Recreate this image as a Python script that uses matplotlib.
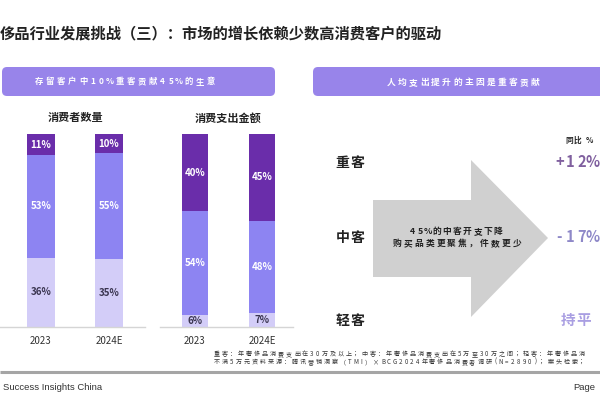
import numpy as np
import matplotlib
matplotlib.use("Agg")
import matplotlib.pyplot as plt
from matplotlib.patches import FancyBboxPatch, Polygon

plt.rcParams["font.family"] = ["Noto Sans CJK SC", "DejaVu Sans"]

# ---- data ----
years = ["2023", "2024E"]
count_light = [36, 35]
count_mid = [53, 55]
count_heavy = [11, 10]
spend_light = [6, 7]
spend_mid = [54, 48]
spend_heavy = [40, 45]

segments = ["重客", "中客", "轻客"]
yoy = ["+12%", "-17%", "持平"]

# ---- palette ----
DARK = "#6A2DAA"
MID = "#8D84F2"
LIGHT = "#D3CDF8"
BANNER = "#9884EA"
TXT = "#222222"
YOY_COLORS = ["#80609F", "#8E88C8", "#A99EE2"]


def spaced(ax, x, y, s, step, ha="center", ascii_f=0.75, fontsize=7, **kw):
    """draw a string char by char with fixed tracking (slide-style)"""
    widths = [step * (ascii_f if ord(c) < 128 else 1.0) for c in s]
    total = sum(widths)
    x0 = x - total / 2 if ha == "center" else x
    base = round(y + 0.5 * fontsize) + 0.01   # same pixel row for every glyph
    for c, w in zip(s, widths):
        ax.text(x0 + w / 2, base, c, ha="center", va="baseline",
                fontsize=fontsize, **kw)
        x0 += w


fig = plt.figure(figsize=(6, 4), dpi=100, facecolor="white")

# overlay in pixel coords (y down)
ov = fig.add_axes([0, 0, 1, 1])
ov.set_xlim(0, 600)
ov.set_ylim(400, 0)
ov.axis("off")

ov.text(0, 33, "侈品行业发展挑战（三）：市场的增长依赖少数高消费客户的驱动",
        fontsize=11, fontweight="bold", color=TXT, ha="left", va="center")

# banners
ov.add_patch(FancyBboxPatch((2, 67), 273, 29, boxstyle="round,pad=0,rounding_size=5",
                            fc=BANNER, ec="none"))
ov.add_patch(FancyBboxPatch((313, 67), 300, 29, boxstyle="round,pad=0,rounding_size=5",
                            fc=BANNER, ec="none"))
spaced(ov, 125, 81.5, "存留客户中10%重客贡献45%的生意", 11.1,
       fontsize=6, color="white", fontweight="bold")
spaced(ov, 463, 81.5, "人均支出提升的主因是重客贡献", 11.1,
       fontsize=6.3, color="white", fontweight="bold")

ov.text(75, 118, "消费者数量", fontsize=8, fontweight="bold", color=TXT,
        ha="center", va="center")
ov.text(228, 118, "消费支出金额", fontsize=8, fontweight="bold", color=TXT,
        ha="center", va="center")

# arrow
ov.add_patch(Polygon([(373, 200), (471, 200), (471, 160), (548, 238),
                      (471, 317), (471, 277), (373, 277)],
                     closed=True, fc="#D0D0D0", ec="none"))
spaced(ov, 456, 231, "45%的中客开支下降", 10.2, fontsize=6.3,
       fontweight="bold", color=TXT)
spaced(ov, 457, 243, "购买品类更聚焦，件数更少", 10.9, fontsize=6.3,
       fontweight="bold", color=TXT)

seg_y = [162, 237, 320]
for lab, val, y, c in zip(segments, yoy, seg_y, YOY_COLORS):
    spaced(ov, 350, y, lab, 15, fontsize=10, fontweight="bold", color=TXT)
    spaced(ov, 576, y, val, 15.5, ascii_f=0.72, fontsize=10.5,
           fontweight="bold", color=c)
spaced(ov, 579, 140, "同比 %", 8, ascii_f=0.7, fontsize=5.5,
       fontweight="bold", color=TXT)

# footnote (the slide is cropped at the right edge)
spaced(ov, 213, 354, "重客：年奢侈品消费支出在30万及以上；中客：年奢侈品消费支出在5万至30万之间；轻客：年奢侈品消",
       8.0, ha="left", ascii_f=0.72, fontsize=4.4, color="#333333")
spaced(ov, 213, 361.5, "不满5万元资料来源：腾讯营销洞察（TMI）×BCG2024年奢侈品消费者调研(N=2890)；案头检索；",
       8.0, ha="left", ascii_f=0.72, fontsize=4.4, color="#333333")

ov.plot([0, 600], [372, 372], color="#A5A5A5", lw=2.2, solid_capstyle="butt")
ov.text(3, 387, "Success Insights China", fontsize=6.8, color="#333333",
        ha="left", va="center", family="Liberation Sans")
ov.text(573, 387, "Page", fontsize=6.8, color="#333333",
        ha="left", va="center", family="Liberation Sans")


# ---- stacked bars ----
def stacked(rect, xlim, light, mid, heavy):
    ax = fig.add_axes(rect)
    x = np.arange(len(years))
    w = 0.4
    b1 = ax.bar(x, light, w, color=LIGHT)
    b2 = ax.bar(x, mid, w, bottom=light, color=MID)
    b3 = ax.bar(x, heavy, w, bottom=np.add(light, mid), color=DARK)
    for bars, vals, col in ((b1, light, "#3A3550"), (b2, mid, "white"),
                            (b3, heavy, "white")):
        for p, v in zip(bars, vals):
            ax.text(p.get_x() + p.get_width() / 2, p.get_y() + p.get_height() / 2,
                    f"{v}%", ha="center", va="center", fontsize=7,
                    fontweight="bold", color=col)
    ax.set_xlim(*xlim)
    ax.set_ylim(0, 100)
    ax.set_xticks(x, years)
    ax.tick_params(axis="x", length=0, pad=6.5, labelsize=7, labelcolor="#333333")
    ax.set_yticks([])
    for s in ("top", "right", "left"):
        ax.spines[s].set_visible(False)
    ax.spines["bottom"].set_color("#D5D5D5")
    ax.spines["bottom"].set_linewidth(1.0)
    ax.set_facecolor("none")
    return ax


bot = 1 - 327 / 400
hgt = 193 / 400
stacked([0 / 600, bot, 145 / 600, hgt], (-41 / 68, 104 / 68),
        count_light, count_mid, count_heavy)
stacked([160 / 600, bot, 133 / 600, hgt], (-35 / 67, 98 / 67),
        spend_light, spend_mid, spend_heavy)

fig.savefig("out.png", dpi=100, facecolor="white")
